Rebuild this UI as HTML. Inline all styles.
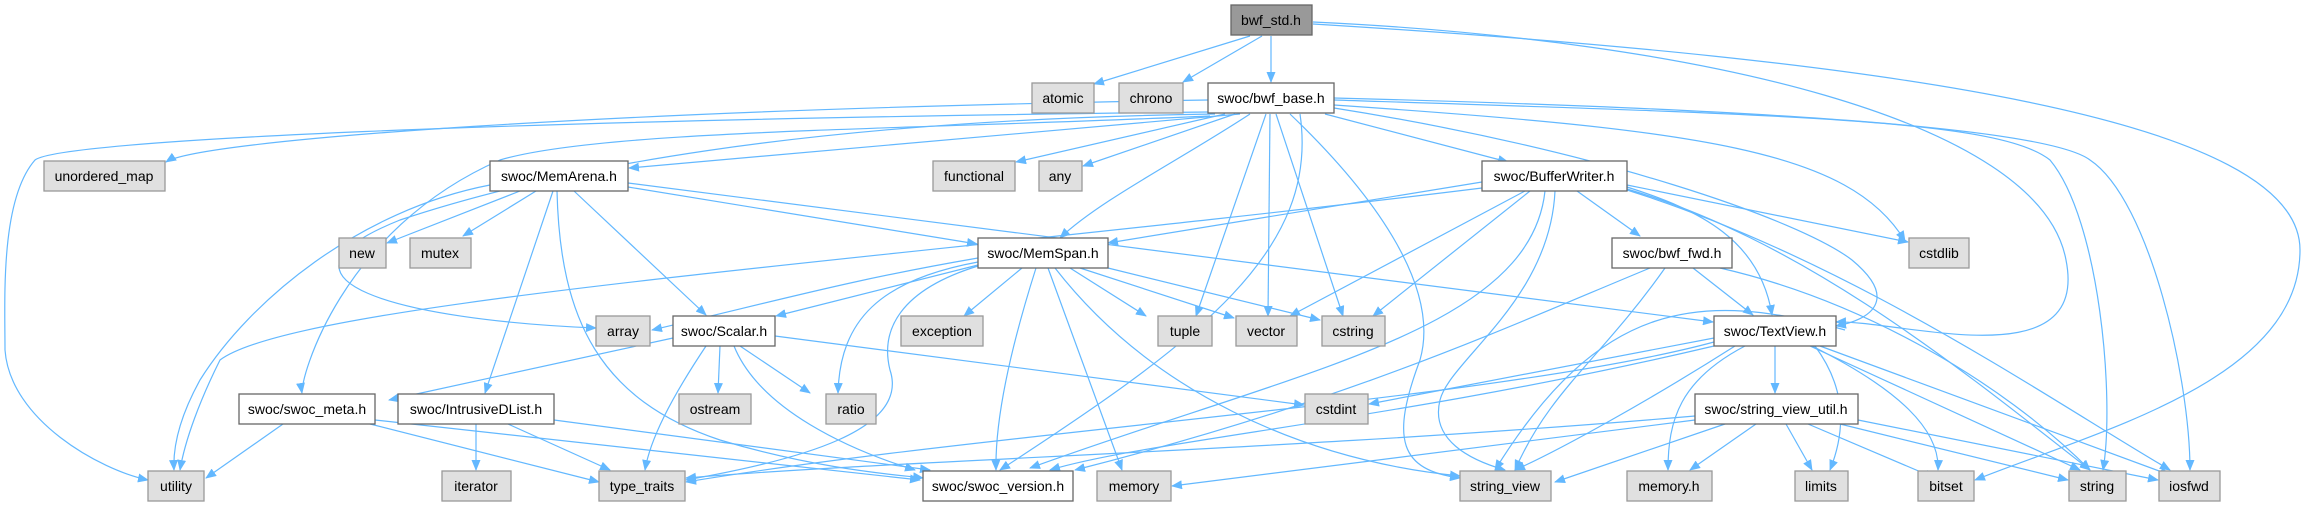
<!DOCTYPE html>
<html><head><meta charset="utf-8"><style>
html,body{margin:0;padding:0;background:#fff;}
svg{display:block;}
text{font-family:"Liberation Sans",sans-serif;font-size:14px;fill:#000;}
.w{fill:#fff;stroke:#666;stroke-width:1.3}
.g{fill:#e0e0e0;stroke:#999;stroke-width:1.3}
.e path{fill:none;stroke:#63b8ff;stroke-width:1.2}
</style></head><body>
<svg width="2306" height="506" viewBox="0 0 2306 506" xmlns="http://www.w3.org/2000/svg">
<defs><marker id="a" markerWidth="11" markerHeight="9" refX="10" refY="4.5" orient="auto" markerUnits="userSpaceOnUse"><path d="M0,0 L11,4.5 L0,9 Z" fill="#63b8ff"/></marker></defs>
<g class="e" marker-end="url(#a)">
<!-- bwf_std -->
<path d="M1250,36 L1094,84" marker-end="url(#a)"/>
<path d="M1262,36 L1183,82" marker-end="url(#a)"/>
<path d="M1271,36 L1271,82" marker-end="url(#a)"/>
<path d="M1313,22 C1700,40 2040,120 2066,260 C2090,380 1900,320 1836,322" marker-end="url(#a)"/>
<path d="M1313,24 C1900,60 2300,120 2300,250 C2300,380 2100,430 1975,480" marker-end="url(#a)"/>
<!-- bwf_base -->
<path d="M1208,100 C600,110 200,140 166,162" marker-end="url(#a)"/>
<path d="M1208,112 C500,120 60,140 35,160 C0,200 5,300 5,350 C10,420 100,470 148,480" marker-end="url(#a)"/>
<path d="M1240,114 L629,168" marker-end="url(#a)"/>
<path d="M1210,116 C900,130 600,130 500,160 C340,230 300,380 302,393" marker-end="url(#a)"/>
<path d="M1215,114 C800,120 550,170 400,220 C250,280 400,320 596,328" marker-end="url(#a)"/>
<path d="M1225,114 L1016,162" marker-end="url(#a)"/>
<path d="M1235,114 L1083,166" marker-end="url(#a)"/>
<path d="M1250,114 C1180,160 1100,200 1060,238" marker-end="url(#a)"/>
<path d="M1266,114 L1196,316" marker-end="url(#a)"/>
<path d="M1270,114 L1268,316" marker-end="url(#a)"/>
<path d="M1276,114 L1343,316" marker-end="url(#a)"/>
<path d="M1290,114 C1380,200 1440,290 1420,360 C1390,440 1400,470 1460,478" marker-end="url(#a)"/>
<path d="M1300,114 C1320,250 1200,340 1000,470" marker-end="url(#a)"/>
<path d="M1325,114 L1508,162" marker-end="url(#a)"/>
<path d="M1334,108 C1600,150 1800,220 1852,260 C1900,300 1870,320 1836,326" marker-end="url(#a)"/>
<path d="M1334,105 C1700,130 1850,150 1905,241" marker-end="url(#a)"/>
<path d="M1334,100 C1800,115 2000,120 2050,160 C2100,220 2115,400 2103,470" marker-end="url(#a)"/>
<path d="M1334,98 C1800,110 2050,130 2090,160 C2150,200 2190,380 2190,470" marker-end="url(#a)"/>
<!-- MemArena -->
<path d="M490,185 C360,210 250,300 200,380 C178,420 173,450 174,470" marker-end="url(#a)"/>
<path d="M520,191 L387,243" marker-end="url(#a)"/>
<path d="M536,191 L463,236" marker-end="url(#a)"/>
<path d="M553,191 L485,393" marker-end="url(#a)"/>
<path d="M574,191 L706,315" marker-end="url(#a)"/>
<path d="M557,191 C560,320 600,400 720,440 C820,470 900,475 923,478" marker-end="url(#a)"/>
<path d="M628,187 L977,244" marker-end="url(#a)"/>
<path d="M628,183 L1713,322" marker-end="url(#a)"/>
<!-- BufferWriter -->
<path d="M1482,182 L1108,243" marker-end="url(#a)"/>
<path d="M1482,188 C900,260 300,300 220,360 C200,400 185,440 180,470" marker-end="url(#a)"/>
<path d="M1525,191 L1290,316" marker-end="url(#a)"/>
<path d="M1530,191 L1373,316" marker-end="url(#a)"/>
<path d="M1577,191 L1640,236" marker-end="url(#a)"/>
<path d="M1627,185 L1908,242" marker-end="url(#a)"/>
<path d="M1627,187 C1700,210 1760,240 1772,315" marker-end="url(#a)"/>
<path d="M1627,189 C1800,240 1950,360 2090,470" marker-end="url(#a)"/>
<path d="M1627,190 C1850,260 2050,400 2170,470" marker-end="url(#a)"/>
<path d="M1545,191 C1530,330 1300,370 1030,468" marker-end="url(#a)"/>
<path d="M1555,191 C1550,300 1450,360 1440,400 C1430,440 1470,460 1505,470" marker-end="url(#a)"/>
<!-- MemSpan -->
<path d="M978,258 C850,280 780,300 652,330" marker-end="url(#a)"/>
<path d="M982,264 L776,316" marker-end="url(#a)"/>
<path d="M1022,268 L964,316" marker-end="url(#a)"/>
<path d="M1070,268 L1146,316" marker-end="url(#a)"/>
<path d="M1080,268 L1234,318" marker-end="url(#a)"/>
<path d="M1108,268 L1320,320" marker-end="url(#a)"/>
<path d="M978,262 C880,280 840,320 838,393" marker-end="url(#a)"/>
<path d="M978,266 C900,290 880,330 890,370 C910,430 800,460 686,480" marker-end="url(#a)"/>
<path d="M1036,268 C1010,350 995,420 996,470" marker-end="url(#a)"/>
<path d="M1048,268 L1122,470" marker-end="url(#a)"/>
<path d="M1055,268 C1150,390 1300,460 1460,476" marker-end="url(#a)"/>
<!-- Scalar -->
<path d="M673,338 L389,400" marker-end="url(#a)"/>
<path d="M720,346 L718,393" marker-end="url(#a)"/>
<path d="M740,346 L810,393" marker-end="url(#a)"/>
<path d="M706,346 C670,400 650,440 645,470" marker-end="url(#a)"/>
<path d="M775,336 L1304,405" marker-end="url(#a)"/>
<path d="M734,346 C760,410 850,450 915,470" marker-end="url(#a)"/>
<!-- swoc_meta -->
<path d="M283,424 L206,478" marker-end="url(#a)"/>
<path d="M370,424 L599,482" marker-end="url(#a)"/>
<path d="M375,420 L920,480" marker-end="url(#a)"/>
<!-- IntrusiveDList -->
<path d="M476,424 L476,470" marker-end="url(#a)"/>
<path d="M508,424 L610,470" marker-end="url(#a)"/>
<path d="M554,420 L930,470" marker-end="url(#a)"/>
<!-- bwf_fwd -->
<path d="M1693,268 L1753,315" marker-end="url(#a)"/>
<path d="M1720,268 C1860,300 2000,380 2090,470" marker-end="url(#a)"/>
<path d="M1650,268 C1500,330 1350,400 1075,470" marker-end="url(#a)"/>
<path d="M1665,268 C1600,360 1550,390 1515,470" marker-end="url(#a)"/>
<!-- TextView -->
<path d="M1714,338 L1369,404" marker-end="url(#a)"/>
<path d="M1775,346 L1775,393" marker-end="url(#a)"/>
<path d="M1745,346 C1680,380 1668,420 1668,470" marker-end="url(#a)"/>
<path d="M1815,346 C1840,380 1850,420 1830,470" marker-end="url(#a)"/>
<path d="M1812,346 C1900,390 1940,430 1938,470" marker-end="url(#a)"/>
<path d="M1810,346 L2080,470" marker-end="url(#a)"/>
<path d="M1820,346 L2170,475" marker-end="url(#a)"/>
<path d="M1735,346 C1650,400 1560,450 1515,470" marker-end="url(#a)"/>
<path d="M1714,342 C1500,400 1000,430 686,482" marker-end="url(#a)"/>
<path d="M1714,346 C1400,420 1150,440 1050,470" marker-end="url(#a)"/>
<path d="M1845,330 C1700,290 1600,300 1495,470" marker-end="url(#a)"/>
<!-- string_view_util -->
<path d="M1695,420 L1172,486" marker-end="url(#a)"/>
<path d="M1725,424 L1555,482" marker-end="url(#a)"/>
<path d="M1756,424 L1690,470" marker-end="url(#a)"/>
<path d="M1786,424 L1812,470" marker-end="url(#a)"/>
<path d="M1808,424 L1935,478" marker-end="url(#a)"/>
<path d="M1840,424 L2068,480" marker-end="url(#a)"/>
<path d="M1858,420 L2158,480" marker-end="url(#a)"/>
<path d="M1695,416 C1300,450 900,460 686,478" marker-end="url(#a)"/>
</g>
<!-- nodes -->
<g>
<rect class="g" x="1231" y="5" width="81" height="30" style="fill:#999;stroke:#666"/><text x="1271" y="25" text-anchor="middle">bwf_std.h</text>
<rect class="g" x="1032" y="83" width="62" height="30"/><text x="1063" y="103" text-anchor="middle">atomic</text>
<rect class="g" x="1119" y="83" width="64" height="30"/><text x="1151" y="103" text-anchor="middle">chrono</text>
<rect class="w" x="1208" y="83" width="126" height="30"/><text x="1271" y="103" text-anchor="middle">swoc/bwf_base.h</text>
<rect class="g" x="44" y="161" width="121" height="30"/><text x="104" y="181" text-anchor="middle">unordered_map</text>
<rect class="w" x="490" y="161" width="138" height="30"/><text x="559" y="181" text-anchor="middle">swoc/MemArena.h</text>
<rect class="g" x="933" y="161" width="82" height="30"/><text x="974" y="181" text-anchor="middle">functional</text>
<rect class="g" x="1039" y="161" width="43" height="30"/><text x="1060" y="181" text-anchor="middle">any</text>
<rect class="w" x="1482" y="161" width="145" height="30"/><text x="1554" y="181" text-anchor="middle">swoc/BufferWriter.h</text>
<rect class="g" x="339" y="238" width="47" height="30"/><text x="362" y="258" text-anchor="middle">new</text>
<rect class="g" x="410" y="238" width="61" height="30"/><text x="440" y="258" text-anchor="middle">mutex</text>
<rect class="w" x="978" y="238" width="130" height="30"/><text x="1043" y="258" text-anchor="middle">swoc/MemSpan.h</text>
<rect class="w" x="1612" y="238" width="120" height="30"/><text x="1672" y="258" text-anchor="middle">swoc/bwf_fwd.h</text>
<rect class="g" x="1909" y="238" width="60" height="30"/><text x="1939" y="258" text-anchor="middle">cstdlib</text>
<rect class="g" x="596" y="316" width="54" height="30"/><text x="623" y="336" text-anchor="middle">array</text>
<rect class="w" x="673" y="316" width="102" height="30"/><text x="724" y="336" text-anchor="middle">swoc/Scalar.h</text>
<rect class="g" x="901" y="316" width="82" height="30"/><text x="942" y="336" text-anchor="middle">exception</text>
<rect class="g" x="1158" y="316" width="54" height="30"/><text x="1185" y="336" text-anchor="middle">tuple</text>
<rect class="g" x="1236" y="316" width="61" height="30"/><text x="1266" y="336" text-anchor="middle">vector</text>
<rect class="g" x="1322" y="316" width="63" height="30"/><text x="1353" y="336" text-anchor="middle">cstring</text>
<rect class="w" x="1714" y="316" width="122" height="30"/><text x="1775" y="336" text-anchor="middle">swoc/TextView.h</text>
<rect class="w" x="239" y="394" width="136" height="30"/><text x="307" y="414" text-anchor="middle">swoc/swoc_meta.h</text>
<rect class="w" x="398" y="394" width="156" height="30"/><text x="476" y="414" text-anchor="middle">swoc/IntrusiveDList.h</text>
<rect class="g" x="679" y="394" width="72" height="30"/><text x="715" y="414" text-anchor="middle">ostream</text>
<rect class="g" x="826" y="394" width="50" height="30"/><text x="851" y="414" text-anchor="middle">ratio</text>
<rect class="g" x="1305" y="394" width="63" height="30"/><text x="1336" y="414" text-anchor="middle">cstdint</text>
<rect class="w" x="1695" y="394" width="163" height="30"/><text x="1776" y="414" text-anchor="middle">swoc/string_view_util.h</text>
<rect class="g" x="148" y="471" width="56" height="30"/><text x="176" y="491" text-anchor="middle">utility</text>
<rect class="g" x="442" y="471" width="69" height="30"/><text x="476" y="491" text-anchor="middle">iterator</text>
<rect class="g" x="599" y="471" width="86" height="30"/><text x="642" y="491" text-anchor="middle">type_traits</text>
<rect class="w" x="923" y="471" width="150" height="30"/><text x="998" y="491" text-anchor="middle">swoc/swoc_version.h</text>
<rect class="g" x="1097" y="471" width="74" height="30"/><text x="1134" y="491" text-anchor="middle">memory</text>
<rect class="g" x="1460" y="471" width="91" height="30"/><text x="1505" y="491" text-anchor="middle">string_view</text>
<rect class="g" x="1627" y="471" width="85" height="30"/><text x="1669" y="491" text-anchor="middle">memory.h</text>
<rect class="g" x="1795" y="471" width="53" height="30"/><text x="1821" y="491" text-anchor="middle">limits</text>
<rect class="g" x="1918" y="471" width="56" height="30"/><text x="1946" y="491" text-anchor="middle">bitset</text>
<rect class="g" x="2069" y="471" width="57" height="30"/><text x="2097" y="491" text-anchor="middle">string</text>
<rect class="g" x="2159" y="471" width="61" height="30"/><text x="2189" y="491" text-anchor="middle">iosfwd</text>
</g>
</svg>
</body></html>
